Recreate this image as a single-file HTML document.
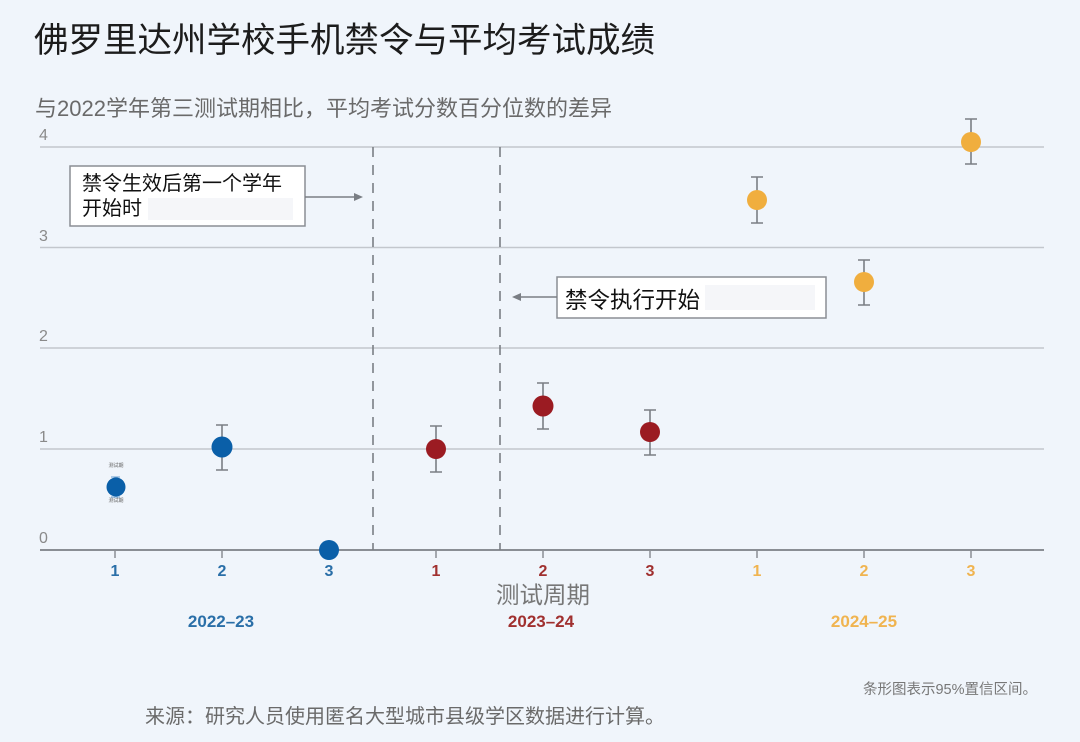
<!DOCTYPE html>
<html><head><meta charset="utf-8">
<style>
html,body{margin:0;padding:0;background:#f0f5fb;}
body{width:1080px;height:742px;overflow:hidden;position:relative;font-family:"Liberation Sans","Noto Sans CJK SC",sans-serif;}
svg{position:absolute;left:0;top:0;}
text{font-family:"Liberation Sans","Noto Sans CJK SC",sans-serif;}
</style></head>
<body>
<svg width="1080" height="742" viewBox="0 0 1080 742" xmlns="http://www.w3.org/2000/svg">
<rect x="0" y="0" width="1080" height="742" fill="#f0f5fb"/>
<!-- Title -->
<text x="34" y="52" font-size="34.5" fill="#1c1c1c">佛罗里达州学校手机禁令与平均考试成绩</text>
<text x="35" y="116" font-size="22" fill="#6a6a6a">与2022学年第三测试期相比，平均考试分数百分位数的差异</text>

<!-- gridlines -->
<g stroke="#c3c7cd" stroke-width="1.6">
<line x1="40" y1="147" x2="1044" y2="147"/>
<line x1="40" y1="247.5" x2="1044" y2="247.5"/>
<line x1="40" y1="348" x2="1044" y2="348"/>
<line x1="40" y1="449" x2="1044" y2="449"/>
</g>
<line x1="40" y1="550" x2="1044" y2="550" stroke="#8a8e94" stroke-width="2"/>
<!-- y labels -->
<g font-size="16" fill="#8a8a8a">
<text x="39" y="140">4</text>
<text x="39" y="241">3</text>
<text x="39" y="341">2</text>
<text x="39" y="442">1</text>
<text x="39" y="543">0</text>
</g>
<!-- ticks -->
<g stroke="#8a8e94" stroke-width="1.5">
<line x1="115" y1="550" x2="115" y2="558"/>
<line x1="222" y1="550" x2="222" y2="558"/>
<line x1="329" y1="550" x2="329" y2="558"/>
<line x1="436" y1="550" x2="436" y2="558"/>
<line x1="543" y1="550" x2="543" y2="558"/>
<line x1="650" y1="550" x2="650" y2="558"/>
<line x1="757" y1="550" x2="757" y2="558"/>
<line x1="864" y1="550" x2="864" y2="558"/>
<line x1="971" y1="550" x2="971" y2="558"/>
</g>
<!-- dashed verticals -->
<g stroke="#7a7e84" stroke-width="1.6" stroke-dasharray="10,8">
<line x1="373" y1="147" x2="373" y2="550"/>
<line x1="500" y1="147" x2="500" y2="550"/>
</g>

<!-- annotation 1 -->
<rect x="70" y="166" width="235" height="60" fill="#ffffff" stroke="#8a8e94" stroke-width="1.5"/>
<rect x="148" y="198" width="145" height="22" fill="#f5f6f9"/>
<text x="82" y="190" font-size="20" fill="#111">禁令生效后第一个学年</text>
<text x="82" y="215" font-size="20" fill="#111">开始时</text>
<line x1="305" y1="197" x2="356" y2="197" stroke="#7a7e84" stroke-width="1.5"/>
<polygon points="363,197 354,193 354,201" fill="#7a7e84"/>

<!-- annotation 2 -->
<rect x="557" y="277" width="269" height="41" fill="#ffffff" stroke="#8a8e94" stroke-width="1.5"/>
<rect x="705" y="285" width="110" height="25" fill="#f5f6f9"/>
<text x="565" y="308" font-size="22.5" fill="#111">禁令执行开始</text>
<line x1="557" y1="297" x2="519" y2="297" stroke="#7a7e84" stroke-width="1.5"/>
<polygon points="512,297 521,293 521,301" fill="#7a7e84"/>

<!-- error bars -->
<g stroke="#7a7e84" stroke-width="1.6" fill="none">
<path d="M222,425 V470 M216,425 H228 M216,470 H228"/>
<path d="M436,426 V472 M430,426 H442 M430,472 H442"/>
<path d="M543,383 V429 M537,383 H549 M537,429 H549"/>
<path d="M650,410 V455 M644,410 H656 M644,455 H656"/>
<path d="M757,177 V223 M751,177 H763 M751,223 H763"/>
<path d="M864,260 V305 M858,260 H870 M858,305 H870"/>
<path d="M971,119 V164 M965,119 H977 M965,164 H977"/>
</g>
<path d="M111,477 H120 M111,497 H120" stroke="#6aa0d0" stroke-width="1"/>
<text x="116" y="467" font-size="5" fill="#666" text-anchor="middle">测试期</text>
<text x="116" y="502" font-size="5" fill="#666" text-anchor="middle">测试期</text>

<!-- points -->
<g fill="#0a5fa8">
<circle cx="116" cy="487" r="9.5"/>
<circle cx="222" cy="447" r="10.5"/>
<circle cx="329" cy="550" r="10"/>
</g>
<g fill="#9b1b22">
<circle cx="436" cy="449" r="10"/>
<circle cx="543" cy="406" r="10.5"/>
<circle cx="650" cy="432" r="10"/>
</g>
<g fill="#f0ae3e">
<circle cx="757" cy="200" r="10"/>
<circle cx="864" cy="282" r="10"/>
<circle cx="971" cy="142" r="10"/>
</g>

<!-- x tick labels -->
<g font-size="16" font-weight="bold" text-anchor="middle">
<text x="115" y="576" fill="#2a6fa8">1</text>
<text x="222" y="576" fill="#2a6fa8">2</text>
<text x="329" y="576" fill="#2a6fa8">3</text>
<text x="436" y="576" fill="#a0302f">1</text>
<text x="543" y="576" fill="#a0302f">2</text>
<text x="650" y="576" fill="#a0302f">3</text>
<text x="757" y="576" fill="#f0b450">1</text>
<text x="864" y="576" fill="#f0b450">2</text>
<text x="971" y="576" fill="#f0b450">3</text>
</g>
<text x="543" y="603" font-size="23.5" fill="#777" text-anchor="middle">测试周期</text>
<g font-size="17" font-weight="bold" text-anchor="middle">
<text x="221" y="627" fill="#2a6fa8">2022–23</text>
<text x="541" y="627" fill="#a0302f">2023–24</text>
<text x="864" y="627" fill="#f0b450">2024–25</text>
</g>

<!-- footnotes -->
<text x="1037" y="694" font-size="14.5" fill="#777" text-anchor="end">条形图表示95%置信区间。</text>
<text x="145" y="723" font-size="20" fill="#6a6a6a">来源：研究人员使用匿名大型城市县级学区数据进行计算。</text>
</svg>
</body></html>
